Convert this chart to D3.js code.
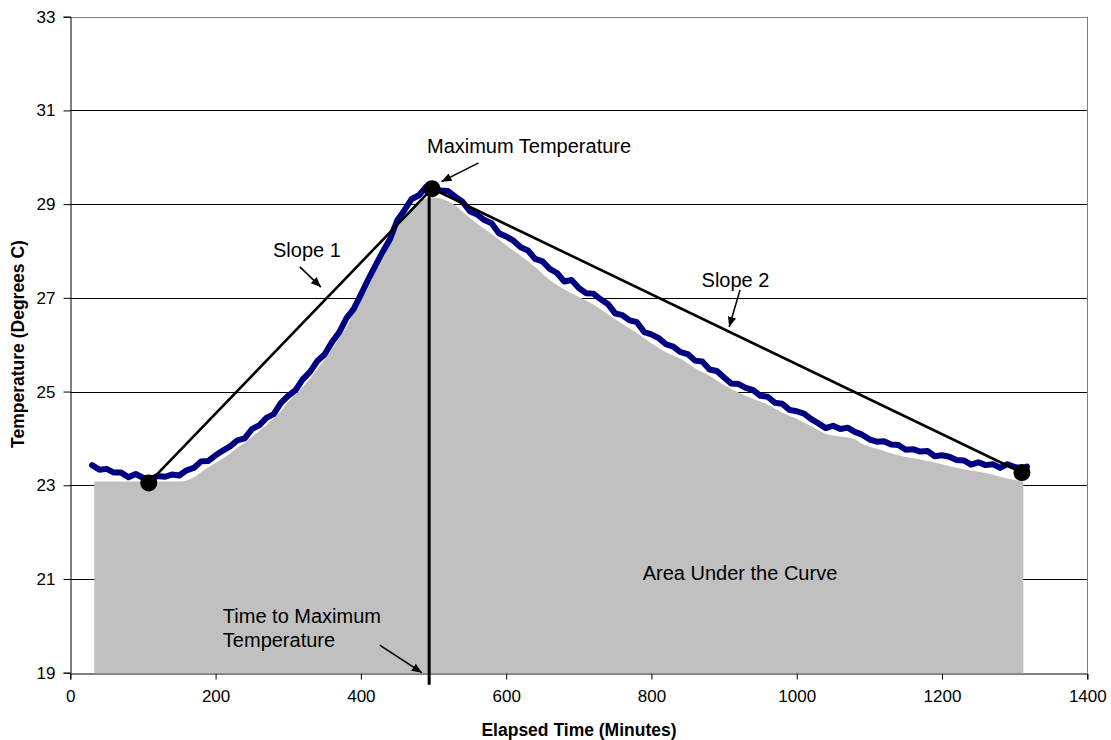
<!DOCTYPE html>
<html>
<head>
<meta charset="utf-8">
<script src="https://cdn.jsdelivr.net/npm/d3@7"></script>
<style>
  html, body { margin: 0; padding: 0; background: #fff; }
  svg { display: block; font-family: "Liberation Sans", Arial, sans-serif; }
</style>
</head>
<body>
<svg id="chart" width="1111" height="740"></svg>
<script>
// ---------- data ----------
const timeMin = [30,40,50,60,70,80,90,100,110,120,130,140,150,160,170,180,190,200,210,220,230,240,250,260,270,280,290,300,310,320,330,340,350,360,370,380,390,400,410,420,430,440,450,460,470,480,490,500,510,520,530,540,550,560,570,580,590,600,610,620,630,640,650,660,670,680,690,700,710,720,730,740,750,760,770,780,790,800,810,820,830,840,850,860,870,880,890,900,910,920,930,940,950,960,970,980,990,1000,1010,1020,1030,1040,1050,1060,1070,1080,1090,1100,1110,1120,1130,1140,1150,1160,1170,1180,1190,1200,1210,1220,1230,1240,1250,1260,1270,1280,1290,1300,1310,1317];
const tempC = [23.43,23.33,23.35,23.27,23.27,23.17,23.24,23.16,23.13,23.20,23.18,23.23,23.21,23.32,23.37,23.51,23.52,23.64,23.74,23.83,23.96,24.00,24.20,24.28,24.44,24.52,24.76,24.91,25.03,25.26,25.42,25.65,25.79,26.05,26.26,26.56,26.76,27.07,27.39,27.69,27.98,28.25,28.65,28.87,29.11,29.19,29.37,29.35,29.29,29.28,29.16,29.05,28.85,28.78,28.66,28.59,28.38,28.31,28.22,28.08,28.01,27.83,27.78,27.62,27.53,27.35,27.38,27.21,27.10,27.09,26.97,26.87,26.67,26.63,26.52,26.48,26.27,26.22,26.14,26.01,25.96,25.84,25.80,25.66,25.64,25.47,25.44,25.30,25.17,25.16,25.08,25.03,24.91,24.89,24.76,24.74,24.61,24.58,24.53,24.41,24.32,24.22,24.27,24.20,24.23,24.14,24.08,23.98,23.93,23.94,23.87,23.86,23.76,23.77,23.72,23.73,23.62,23.64,23.61,23.54,23.53,23.44,23.49,23.43,23.45,23.37,23.45,23.39,23.36,23.40];

const areaTime = [33,60,90,120,150,160,170,180,190,200,210,220,230,240,250,260,270,280,290,300,310,320,330,340,350,360,370,380,390,400,410,420,430,440,450,460,470,480,490,500,510,520,530,540,560,580,600,620,640,660,680,700,720,740,760,780,800,820,840,860,880,900,920,940,960,980,1000,1020,1040,1060,1080,1090,1110,1140,1170,1200,1230,1260,1280,1300,1312];
const areaTemp = [23.08,23.08,23.08,23.08,23.08,23.10,23.17,23.28,23.38,23.48,23.57,23.68,23.80,23.90,24.03,24.16,24.28,24.43,24.58,24.78,24.93,25.10,25.28,25.48,25.68,25.90,26.14,26.38,26.66,26.93,27.23,27.55,27.83,28.15,28.47,28.72,28.92,29.05,29.12,29.14,29.12,29.06,28.97,28.84,28.58,28.36,28.12,27.90,27.66,27.38,27.18,27.02,26.86,26.65,26.44,26.25,26.03,25.84,25.70,25.50,25.34,25.14,24.98,24.84,24.72,24.55,24.42,24.26,24.10,24.04,23.98,23.88,23.78,23.64,23.55,23.45,23.34,23.26,23.18,23.11,23.08];

const keyTimes = [108, 498, 1310];
const keyTemps = [23.05, 29.33, 23.27];
const peakLineTime = 494;

const xTicks = [0,200,400,600,800,1000,1200,1400];
const yTicks = [19,21,23,25,27,29,31,33];

const xTitle = "Elapsed Time (Minutes)";
const yTitle = "Temperature (Degrees C)";

const labelText = ["Maximum Temperature", "Slope 1", "Slope 2", "Time to Maximum|Temperature", "Area Under the Curve"];
const labelTime = [491, 279, 869, 210, 788];
const labelTemp = [30.09, 27.88, 27.24, 20.07, 20.98];
const arrowFromTime = [562, 316, 922, 426];
const arrowFromTemp = [29.88, 27.66, 27.17, 19.59];
const arrowToTime = [511, 345, 907, 484];
const arrowToTemp = [29.48, 27.23, 26.38, 19.0];

// ---------- layout ----------
const svg = d3.select("#chart");
const L = 70.3, R = 1087.3, T = 16.7, B = 672.7;
const x = d3.scaleLinear().domain([0, 1400]).range([L, R]);
const y = d3.scaleLinear().domain([19, 33]).range([B, T]);

svg.append("rect").attr("width", 1111).attr("height", 740).attr("fill", "#fff");

// arrow marker
svg.append("defs").append("marker")
  .attr("id", "arrow").attr("viewBox", "0 0 10 10")
  .attr("refX", 10).attr("refY", 5)
  .attr("markerWidth", 10).attr("markerHeight", 10)
  .attr("markerUnits", "userSpaceOnUse")
  .attr("orient", "auto")
  .append("path").attr("d", "M0,0.8 L10,5 L0,9.2 Z").attr("fill", "#000");

// gridlines
svg.append("g").selectAll("line").data(yTicks.filter(d => d > 19 && d < 33)).join("line")
  .attr("x1", L).attr("x2", R)
  .attr("y1", d => Math.round(y(d)) + 0.5).attr("y2", d => Math.round(y(d)) + 0.5)
  .attr("stroke", "#000").attr("stroke-width", 1);

// top and right borders
svg.append("line").attr("x1", L).attr("x2", R).attr("y1", Math.round(T)+0.5).attr("y2", Math.round(T)+0.5).attr("stroke", "#808080");
svg.append("line").attr("x1", Math.round(R)+0.5).attr("x2", Math.round(R)+0.5).attr("y1", T).attr("y2", B).attr("stroke", "#808080");

// x axis
const xAxis = d3.axisBottom(x).tickValues(xTicks).tickSize(6).tickPadding(10).tickFormat(d3.format("d"));
const gx = svg.append("g").attr("transform", `translate(0,${Math.round(B)+0.5})`).call(xAxis);
gx.select(".domain").attr("stroke", "#000");
gx.selectAll(".tick line").attr("stroke", "#000");
gx.selectAll("text").attr("font-size", 17).attr("fill", "#000").attr("font-family", "Liberation Sans, Arial, sans-serif");

// y axis
const yAxis = d3.axisLeft(y).tickValues(yTicks).tickSize(7).tickPadding(8).tickFormat(d3.format("d"));
const gy = svg.append("g").attr("transform", `translate(${Math.round(L)+0.5},0)`).call(yAxis);
gy.select(".domain").attr("stroke", "#000");
gy.selectAll(".tick line").attr("stroke", "#000");
gy.selectAll("text").attr("font-size", 17).attr("fill", "#000").attr("font-family", "Liberation Sans, Arial, sans-serif");

// area under the curve
const areaData = areaTime.map((t, i) => ({t, v: areaTemp[i]}));
svg.append("path").datum(areaData)
  .attr("d", d3.area().x(d => x(d.t)).y0(y(19) + 0.5).y1(d => y(d.v)).curve(d3.curveMonotoneX))
  .attr("fill", "#C0C0C0");

// temperature line
const lineData = timeMin.map((t, i) => ({t, v: tempC[i]}));
svg.append("path").datum(lineData)
  .attr("d", d3.line().x(d => x(d.t)).y(d => y(d.v)))
  .attr("fill", "none").attr("stroke", "#000080").attr("stroke-width", 6)
  .attr("stroke-linejoin", "round").attr("stroke-linecap", "round");

// slope lines
const keyPts = keyTimes.map((t, i) => ({t, v: keyTemps[i]}));
svg.append("path").datum(keyPts)
  .attr("d", d3.line().x(d => x(d.t)).y(d => y(d.v)))
  .attr("fill", "none").attr("stroke", "#000").attr("stroke-width", 2.6);

// vertical line at time to maximum
svg.append("line")
  .attr("x1", x(peakLineTime)).attr("x2", x(peakLineTime))
  .attr("y1", y(keyTemps[1])).attr("y2", y(19) + 12)
  .attr("stroke", "#000").attr("stroke-width", 3);

// key markers
svg.append("g").selectAll("circle").data(keyPts).join("circle")
  .attr("cx", d => x(d.t)).attr("cy", d => y(d.v)).attr("r", 8.5).attr("fill", "#000");

// annotation arrows
svg.append("g").selectAll("line").data(arrowFromTime).join("line")
  .attr("x1", (d, i) => x(arrowFromTime[i])).attr("y1", (d, i) => y(arrowFromTemp[i]))
  .attr("x2", (d, i) => x(arrowToTime[i])).attr("y2", (d, i) => y(arrowToTemp[i]))
  .attr("stroke", "#000").attr("stroke-width", 1.6).attr("marker-end", "url(#arrow)");

// annotation labels
const lab = svg.append("g").attr("font-size", 20).attr("fill", "#000");
labelText.forEach((txt, i) => {
  const t = lab.append("text").attr("x", x(labelTime[i])).attr("y", y(labelTemp[i]));
  txt.split("|").forEach((part, j) => {
    t.append("tspan").attr("x", x(labelTime[i])).attr("dy", j === 0 ? 0 : 24).text(part);
  });
});

// axis titles
svg.append("text").attr("x", 579).attr("y", 736).attr("text-anchor", "middle")
  .attr("font-size", 17.5).attr("font-weight", "bold").text(xTitle);
svg.append("text").attr("transform", "translate(24,344) rotate(-90)").attr("text-anchor", "middle")
  .attr("font-size", 17.5).attr("font-weight", "bold").text(yTitle);
</script>
</body>
</html>
